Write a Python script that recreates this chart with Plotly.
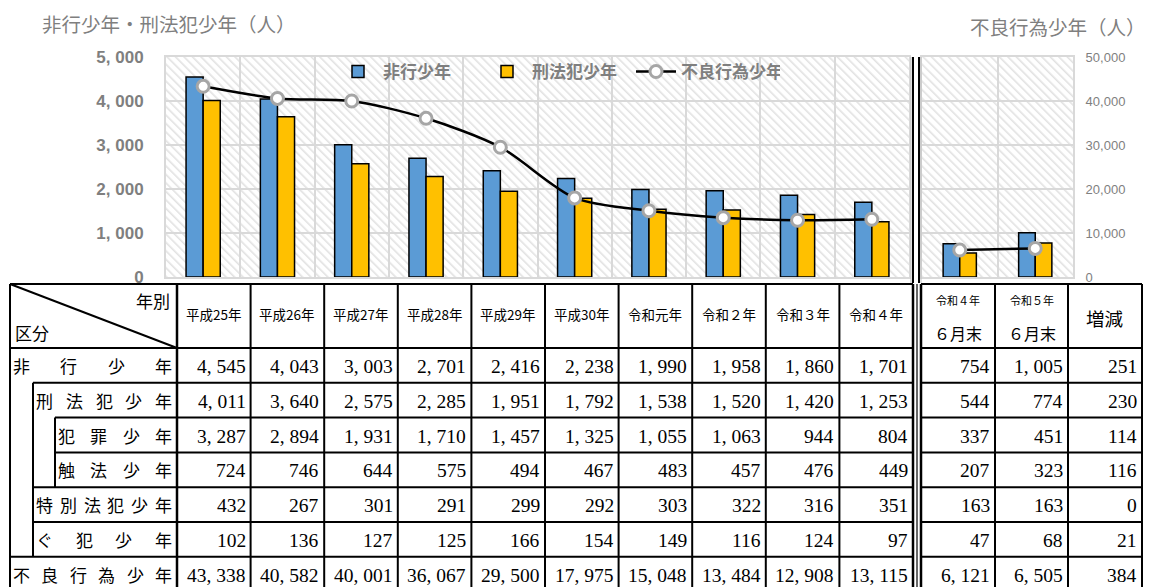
import base64
import plotly.graph_objects as go

# ---------------- data ----------------
years = ["平成25年", "平成26年", "平成27年", "平成28年", "平成29年",
         "平成30年", "令和元年", "令和２年", "令和３年", "令和４年"]
recent_years = ["令和４年", "令和５年"]
recent_sub = "６月末"

row_labels = ["非行少年", "刑法犯少年", "犯罪少年", "触法少年",
              "特別法犯少年", "ぐ犯少年", "不良行為少年"]

hikou = [4545, 4043, 3003, 2701, 2416, 2238, 1990, 1958, 1860, 1701]
keihou = [4011, 3640, 2575, 2285, 1951, 1792, 1538, 1520, 1420, 1253]
hanzai = [3287, 2894, 1931, 1710, 1457, 1325, 1055, 1063, 944, 804]
shokuhou = [724, 746, 644, 575, 494, 467, 483, 457, 476, 449]
tokubetsu = [432, 267, 301, 291, 299, 292, 303, 322, 316, 351]
guhan = [102, 136, 127, 125, 166, 154, 149, 116, 124, 97]
furyou = [43338, 40582, 40001, 36067, 29500, 17975, 15048, 13484, 12908, 13115]

hikou_r = [754, 1005]
keihou_r = [544, 774]
hanzai_r = [337, 451]
shokuhou_r = [207, 323]
tokubetsu_r = [163, 163]
guhan_r = [47, 68]
furyou_r = [6121, 6505]

left_ticks = [0, 1000, 2000, 3000, 4000, 5000]
left_tick_text = ["0", "1, 000", "2, 000", "3, 000", "4, 000", "5, 000"]
right_ticks = [0, 10000, 20000, 30000, 40000, 50000]
right_tick_text = ["0", "10,000", "20,000", "30,000", "40,000", "50,000"]

title_left = "非行少年・刑法犯少年（人）"
title_right = "不良行為少年（人）"
header_corner_top = "年別"
header_corner_bottom = "区分"
header_change = "増減"

# ---------------- helpers ----------------
W, H = 1150, 587


def fx(x):
    return x / W


def fy(y):
    return 1 - y / H


JP = "Noto Sans CJK JP"
NUM = "Liberation Serif, Noto Sans CJK JP"
GRAY = "#7f7f7f"
GRID = "#d9d9d9"


def hatch_uri(w, h):
    svg = (f'<svg xmlns="http://www.w3.org/2000/svg" width="{w}" height="{h}" '
           f'viewBox="0 0 {w} {h}"><defs><pattern id="p" width="6" height="6" '
           f'patternUnits="userSpaceOnUse" patternTransform="rotate(-45)">'
           f'<rect width="6" height="6" fill="white"/>'
           f'<rect x="0" y="0" width="1.6" height="6" fill="#e2e2e2"/></pattern></defs>'
           f'<rect width="{w}" height="{h}" fill="url(#p)"/></svg>')
    return "data:image/svg+xml;base64," + base64.b64encode(svg.encode()).decode()


fig = go.Figure()

xm = list(range(len(years)))
xr = list(range(len(recent_years)))
bar_line = dict(color="black", width=1.5)

# main chart
fig.add_trace(go.Bar(x=xm, y=hikou, name="非行少年", width=0.23, offset=-0.23,
                     marker=dict(color="#5B9BD5", line=bar_line), xaxis="x", yaxis="y"))
fig.add_trace(go.Bar(x=xm, y=keihou, name="刑法犯少年", width=0.23, offset=0,
                     marker=dict(color="#FFC000", line=bar_line), xaxis="x", yaxis="y"))
fig.add_trace(go.Scatter(x=xm, y=furyou, name="不良行為少年", mode="lines+markers",
                         line=dict(color="black", width=2.5, shape="spline", smoothing=0.8),
                         marker=dict(symbol="circle", size=12, color="white",
                                     line=dict(color="#A6A6A6", width=3)),
                         xaxis="x", yaxis="y2"))
# right chart
fig.add_trace(go.Bar(x=xr, y=hikou_r, name="非行少年", width=0.22, offset=-0.22, showlegend=False,
                     marker=dict(color="#5B9BD5", line=bar_line), xaxis="x2", yaxis="y3"))
fig.add_trace(go.Bar(x=xr, y=keihou_r, name="刑法犯少年", width=0.22, offset=0, showlegend=False,
                     marker=dict(color="#FFC000", line=bar_line), xaxis="x2", yaxis="y3"))
fig.add_trace(go.Scatter(x=xr, y=furyou_r, name="不良行為少年", mode="lines+markers", showlegend=False,
                         line=dict(color="black", width=2.5),
                         marker=dict(symbol="circle", size=12, color="white",
                                     line=dict(color="#A6A6A6", width=3)),
                         xaxis="x2", yaxis="y4"))

ydom = [fy(277), fy(57)]
common_x = dict(showticklabels=False, showgrid=True, gridcolor=GRID, gridwidth=2,
                showline=True, mirror=True, linecolor=GRID, linewidth=2,
                zeroline=False, ticks="", fixedrange=True)
fig.update_layout(
    width=W, height=H, autosize=False,
    margin=dict(l=0, r=0, t=0, b=0, pad=0, autoexpand=False),
    paper_bgcolor="white", plot_bgcolor="white",
    barmode="overlay",
    xaxis=dict(domain=[fx(166), fx(909)], range=[-0.5, len(years) - 0.5],
               tickvals=[i - 0.5 for i in range(len(years) + 1)], anchor="y", **common_x),
    yaxis=dict(domain=ydom, range=[0, 5000], tickvals=left_ticks, ticktext=left_tick_text,
               ticks="outside", ticklen=17, tickcolor="rgba(0,0,0,0)",
               tickfont=dict(family="Liberation Sans", size=17, color=GRAY, weight="bold"),
               showgrid=True, gridcolor=GRID, gridwidth=2, showline=True, mirror=True,
               linecolor=GRID, linewidth=2, zeroline=False, anchor="x"),
    yaxis2=dict(overlaying="y", range=[0, 50000], visible=False, anchor="x", side="right"),
    xaxis2=dict(domain=[fx(922), fx(1073)], range=[-0.5, len(recent_years) - 0.5],
                tickvals=[i - 0.5 for i in range(len(recent_years) + 1)], anchor="y3", **common_x),
    yaxis3=dict(domain=ydom, range=[0, 5000], tickvals=left_ticks, showticklabels=False,
                showgrid=True, gridcolor=GRID, gridwidth=2, showline=True, mirror=True,
                linecolor=GRID, linewidth=2, zeroline=False, anchor="x2"),
    yaxis4=dict(overlaying="y3", side="right", anchor="x2", range=[0, 50000],
                tickvals=right_ticks, ticktext=right_tick_text, ticks="outside", ticklen=9,
                tickcolor="rgba(0,0,0,0)", showgrid=False, zeroline=False, showline=False,
                tickfont=dict(family="Liberation Sans Narrow, Liberation Sans", size=13, color=GRAY)),
    legend=dict(orientation="h", x=fx(333), y=fy(72), xanchor="left", yanchor="middle",
                bgcolor="rgba(0,0,0,0)", itemwidth=40, entrywidth=94, entrywidthmode="pixels",
                font=dict(family=JP, size=17, color=GRAY, weight="bold")),
    images=[
        dict(source=hatch_uri(743, 220), xref="x domain", yref="y domain", x=0, y=1,
             sizex=1, sizey=1, sizing="stretch", xanchor="left", yanchor="top", layer="below"),
        dict(source=hatch_uri(151, 220), xref="x2 domain", yref="y3 domain", x=0, y=1,
             sizex=1, sizey=1, sizing="stretch", xanchor="left", yanchor="top", layer="below"),
    ],
)

shapes = []
ann = []


def line(x0, y0, x1, y1, w=2, color="black"):
    shapes.append(dict(type="line", xref="paper", yref="paper", x0=fx(x0), y0=fy(y0),
                       x1=fx(x1), y1=fy(y1), line=dict(color=color, width=w)))


def text(x, y, s, size, xanchor="center", family=JP, color="black", weight="normal"):
    ann.append(dict(xref="paper", yref="paper", x=fx(x), y=fy(y), text=s, showarrow=False,
                    xanchor=xanchor, yanchor="middle",
                    font=dict(family=family, size=size, color=color, weight=weight)))


# titles
text(40, 23, title_left, 19.5, xanchor="left", color=GRAY)
text(1148, 26, title_right, 19.5, xanchor="right", color=GRAY)

# separator between charts
line(913, 57, 913, 283, 2)
line(919, 57, 919, 283, 2)
line(911, 57, 911, 283, 1, "#bfbfbf")
line(921, 57, 921, 283, 1, "#bfbfbf")

# ---------------- table geometry ----------------
T_TOP, HDR_BOT, ROW_H = 284, 348, 34.8
T_BOT = 592
L0, L1, L2 = 10, 33, 55
COL0 = 177
MAIN_R = 913
col_edges = [COL0 + (MAIN_R - COL0) * i / len(years) for i in range(len(years) + 1)]
r_edges = [921, 995, 1068, 1142]
row_y = [HDR_BOT + ROW_H * i for i in range(len(row_labels) + 1)]
row_left = [L0, L1, L2, L2, L1, L1, L0]          # left edge of each row's label cell
line_left = [L1, L2, L2, L1, L1, L0, L0]         # left start of line under each row

# outer/top lines
line(L0, T_TOP, MAIN_R, T_TOP)
line(r_edges[0], T_TOP, r_edges[-1], T_TOP)
line(L0, HDR_BOT, MAIN_R, HDR_BOT)
line(r_edges[0], HDR_BOT, r_edges[-1], HDR_BOT)
for i in range(len(row_labels)):
    yb = row_y[i + 1]
    line(line_left[i], yb, MAIN_R, yb)
    line(r_edges[0], yb, r_edges[-1], yb)
# verticals
line(L0, T_TOP, L0, T_BOT)
line(L1, row_y[1], L1, row_y[6])
line(L2, row_y[2], L2, row_y[4])
for xe in col_edges:
    line(xe, T_TOP, xe, T_BOT, 2.5 if xe in (col_edges[0], col_edges[-1]) else 2)
line(917, T_TOP, 917, T_BOT, 1.2)
for xe in r_edges:
    line(xe, T_TOP, xe, T_BOT, 2.5 if xe == r_edges[0] else 2)
# diagonal header
line(L0, T_TOP, COL0, HDR_BOT, 2)

# header texts
text(172, 300, header_corner_top, 17, xanchor="right")
text(13, 332, header_corner_bottom, 17, xanchor="left")
for i, yl in enumerate(years):
    text((col_edges[i] + col_edges[i + 1]) / 2, 314, yl, 13.5)
for i, yl in enumerate(recent_years):
    cx = (r_edges[i] + r_edges[i + 1]) / 2
    text(cx, 300, yl, 11)
    text(cx, 333, recent_sub, 16)
text((r_edges[2] + r_edges[3]) / 2, 318, header_change, 18.5)

# row labels (characters justified across cell)
CW = 17
for i, lab in enumerate(row_labels):
    yc = (row_y[i] + row_y[i + 1]) / 2
    lft, rgt = row_left[i] + 3, 172
    n = len(lab)
    step = (rgt - lft - CW) / (n - 1)
    for k, ch in enumerate(lab):
        text(lft + CW / 2 + k * step, yc, ch, CW)


def fmt(v):
    return f"{v:,}".replace(",", ", ")


rows_main = [hikou, keihou, hanzai, shokuhou, tokubetsu, guhan, furyou]
rows_recent = [hikou_r, keihou_r, hanzai_r, shokuhou_r, tokubetsu_r, guhan_r, furyou_r]
for i in range(len(row_labels)):
    yc = (row_y[i] + row_y[i + 1]) / 2 + 1
    for j, v in enumerate(rows_main[i]):
        text(col_edges[j + 1] - 3, yc, fmt(v), 19.5, xanchor="right", family=NUM)
    vals = rows_recent[i] + [rows_recent[i][1] - rows_recent[i][0]]
    for j, v in enumerate(vals):
        text(r_edges[j + 1] - 3, yc, fmt(v), 19.5, xanchor="right", family=NUM)

fig.update_layout(shapes=shapes, annotations=ann)
fig.write_html("out.html",
               config={"displayModeBar": False, "staticPlot": True},
               post_script="document.body.style.margin='0px';"
                           "document.documentElement.style.overflow='hidden';")
